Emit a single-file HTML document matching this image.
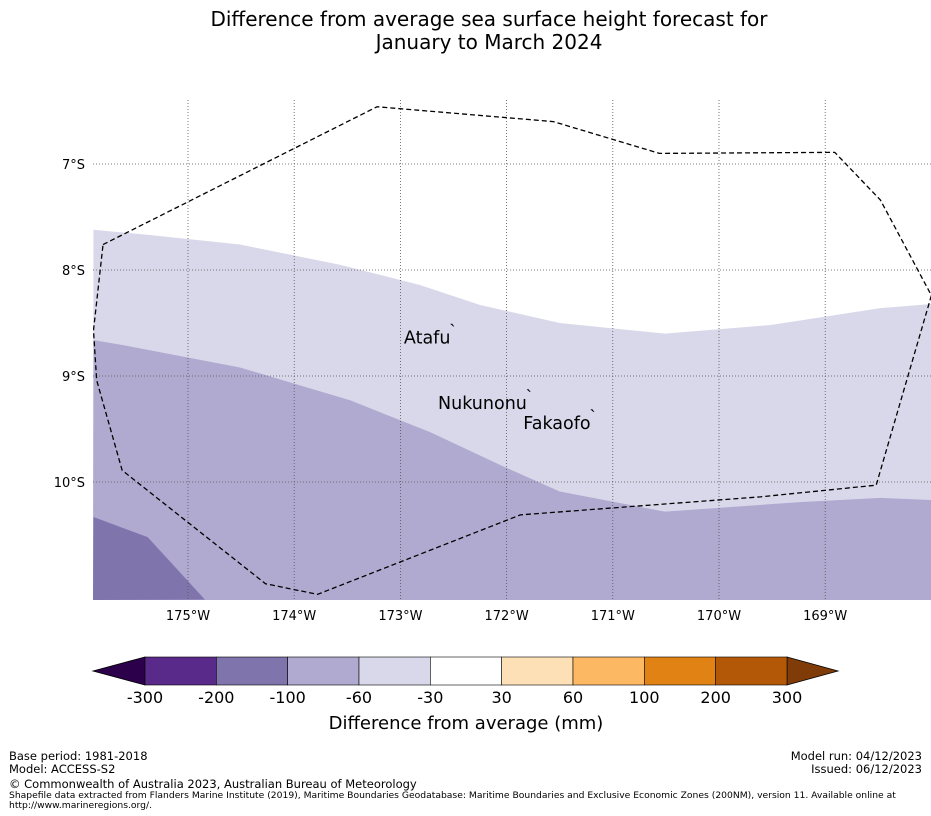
<!DOCTYPE html>
<html><head><meta charset="utf-8">
<style>
body{margin:0;background:#fff;font-family:"Liberation Sans","DejaVu Sans",sans-serif;}
#wrap{position:relative;width:931px;height:816px;overflow:hidden;}
.t{position:absolute;white-space:nowrap;color:#000;}
</style></head>
<body>
<div id="wrap">
<div class="t" style="left:0;width:978px;top:8px;text-align:center;font-size:20px;line-height:23px;font-family:'DejaVu Sans',sans-serif;">Difference from average sea surface height forecast for<br>January to March 2024</div>
<svg id="map" width="931" height="816" style="position:absolute;left:0;top:0"></svg>
<div class="t" style="left:9px;top:749px;font-size:11.5px;font-family:'DejaVu Sans',sans-serif;">Base period: 1981-2018</div>
<div class="t" style="left:9px;top:762px;font-size:11.5px;font-family:'DejaVu Sans',sans-serif;">Model: ACCESS-S2</div>
<div class="t" style="right:9px;top:749px;font-size:11.5px;font-family:'DejaVu Sans',sans-serif;">Model run: 04/12/2023</div>
<div class="t" style="right:9px;top:762px;font-size:11.5px;font-family:'DejaVu Sans',sans-serif;">Issued: 06/12/2023</div>
<div class="t" style="left:9px;top:777px;font-size:11.5px;font-family:'DejaVu Sans',sans-serif;">© Commonwealth of Australia 2023, Australian Bureau of Meteorology</div>
<div class="t" style="left:9px;top:791px;font-size:9.2px;line-height:10px;font-family:'DejaVu Sans',sans-serif;">Shapefile data extracted from Flanders Marine Institute (2019), Maritime Boundaries Geodatabase: Maritime Boundaries and Exclusive Economic Zones (200NM), version 11. Available online at<br>http://www.marineregions.org/.</div>
</div>
<script>
const lightLon=[-175.89,-175.36,-174.51,-173.57,-172.82,-172.25,-171.50,-170.51,-169.52,-168.48,-168.0];
const lightLat=[-7.62,-7.67,-7.76,-7.95,-8.14,-8.33,-8.50,-8.60,-8.52,-8.36,-8.32];
const medLon=[-175.89,-175.55,-174.51,-173.47,-172.72,-172.06,-171.50,-170.51,-169.24,-168.48,-168.0];
const medLat=[-8.66,-8.72,-8.92,-9.23,-9.53,-9.84,-10.09,-10.28,-10.19,-10.15,-10.17];
const darkLon=[-175.89,-175.38,-174.84];
const darkLat=[-10.33,-10.52,-11.11];
const eezLon=[-175.80,-173.22,-171.56,-170.56,-168.91,-168.48,-168.0,-168.52,-169.61,-171.87,-173.78,-174.27,-175.62,-175.86,-175.89,-175.80];
const eezLat=[-7.76,-6.46,-6.60,-6.90,-6.89,-7.34,-8.24,-10.03,-10.14,-10.31,-11.06,-10.96,-9.89,-9.04,-8.57,-7.76];
const lonTicks=[-175,-174,-173,-172,-171,-170,-169];
const lonLabels=["175°W","174°W","173°W","172°W","171°W","170°W","169°W"];
const latTicks=[-7,-8,-9,-10];
const latLabels=["7°S","8°S","9°S","10°S"];
const islandNames=["Atafu","Nukunonu","Fakaofo"];
const islandLon=[-172.51,-171.79,-171.19];
const islandLat=[-8.56,-9.18,-9.37];
const cbLabels=["-300","-200","-100","-60","-30","30","60","100","200","300"];
const cbColors=["#5a2a8a","#8074ad","#b0aad0","#d8d8ea","#ffffff","#fee0b6","#fdb863","#e08214","#b35806"];

const X0=93,X1=931,Y0=100,Y1=600;
const xs=lon=>188+(lon+175)*106.2;
const ys=lat=>164+(-7-lat)*106;
const svg=document.getElementById('map');
const NS='http://www.w3.org/2000/svg';
function mk(tag,attrs){const e=document.createElementNS(NS,tag);for(const k in attrs)e.setAttribute(k,attrs[k]);svg.appendChild(e);return e;}
const clip=document.createElementNS(NS,'clipPath');clip.setAttribute('id','mc');
const cr=document.createElementNS(NS,'rect');cr.setAttribute('x',X0);cr.setAttribute('y',Y0);cr.setAttribute('width',X1-X0);cr.setAttribute('height',Y1-Y0);clip.appendChild(cr);svg.appendChild(clip);
function band(lons,lats,fill,name){
  let p=lons.map((l,i)=>xs(l)+','+ys(lats[i])).join(' ');
  p+=' '+X1+','+Y1+' '+X0+','+Y1;
  const e=mk('polygon',{points:p,fill:fill,'clip-path':'url(#mc)'});
  
  
}
band(lightLon,lightLat,'#d8d8ea','contour-band-minus60-to-minus30');
band(medLon,medLat,'#b0aad0','contour-band-minus100-to-minus60');
{
 let p=darkLon.map((l,i)=>xs(l)+','+ys(darkLat[i])).join(' ')+' '+X0+','+Y1;
 const e=mk('polygon',{points:p,fill:'#8074ad','clip-path':'url(#mc)'});
 
 
}
lonTicks.forEach((t,i)=>{
  const x=xs(t);
  const g=mk('line',{x1:x,x2:x,y1:Y0,y2:Y1,stroke:'#555','stroke-width':0.8,'stroke-dasharray':'1,2'});
  
  
  const tx=mk('text',{x:x,y:620,'text-anchor':'middle','font-size':13,'font-family':'DejaVu Sans,sans-serif'});
  tx.textContent=lonLabels[i];
  
  
});
latTicks.forEach((t,i)=>{
  const y=ys(t);
  const g=mk('line',{x1:X0,x2:X1,y1:y,y2:y,stroke:'#555','stroke-width':0.8,'stroke-dasharray':'1,2'});
  
  
  const tx=mk('text',{x:85,y:y+5,'text-anchor':'end','font-size':13,'font-family':'DejaVu Sans,sans-serif'});
  tx.textContent=latLabels[i];
  
  
});
{
 const p=eezLon.map((l,i)=>xs(l)+','+ys(eezLat[i])).join(' ');
 const e=mk('polyline',{points:p,fill:'none',stroke:'#000','stroke-width':1.3,'stroke-dasharray':'5,3','clip-path':'url(#mc)'});
 
 
}
islandNames.forEach((n,i)=>{
  const x=xs(islandLon[i]),y=ys(islandLat[i]);
  const m=mk('text',{x:x,y:y+8,'font-size':18,'text-anchor':'middle'});m.textContent='`';
  
  
  const t=mk('text',{x:x-2,y:y+14,'text-anchor':'end','font-size':17.5,'font-family':'DejaVu Sans,sans-serif'});
  t.textContent=n;
  
  
});
const CB0=145,CB1=787,CBY=657,CBH=28,sw=(CB1-CB0)/cbColors.length;
{
 const l=mk('polygon',{points:`${CB0},${CBY} 93,${CBY+CBH/2} ${CB0},${CBY+CBH}`,fill:'#2d004b',stroke:'#000','stroke-width':0.8});
 
 
 const r=mk('polygon',{points:`${CB1},${CBY} 838,${CBY+CBH/2} ${CB1},${CBY+CBH}`,fill:'#7f3b08',stroke:'#000','stroke-width':0.8});
 
 
}
cbColors.forEach((c,i)=>{
  const r=mk('rect',{x:CB0+i*sw,y:CBY,width:sw,height:CBH,fill:c,stroke:'#000','stroke-width':0.6});
  
  
});
cbLabels.forEach((s,i)=>{
  const t=mk('text',{x:CB0+i*sw,y:703,'text-anchor':'middle','font-size':16,'font-family':'DejaVu Sans,sans-serif'});
  t.textContent=s;
  
  
});
{
 const t=mk('text',{x:466,y:729,'text-anchor':'middle','font-size':18,'font-family':'DejaVu Sans,sans-serif'});
 t.textContent='Difference from average (mm)';
 
 
}
</script>
</body></html>
